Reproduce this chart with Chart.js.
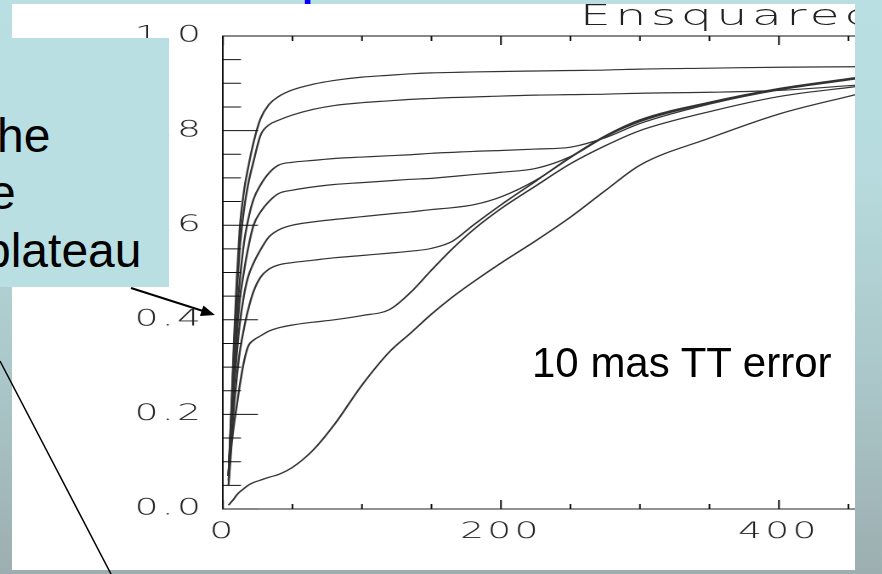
<!DOCTYPE html>
<html>
<head>
<meta charset="utf-8">
<title>Ensquared Energy</title>
<script src="https://cdn.jsdelivr.net/npm/chart.js"></script>
<style>
  html, body { margin: 0; padding: 0; }
  body {
    width: 882px; height: 574px; position: relative; overflow: hidden;
    background: linear-gradient(to bottom, #b9dfe2 0%, #b7dbde 30%, #a9c4c6 70%, #9caeb0 100%);
  }
  #panel { position: absolute; left: 12px; top: 4px; width: 843px; height: 566px; background: #fff; overflow: hidden; }
  /* the original plot is a horizontally stretched image */
  #stretch { position: absolute; left: 0; top: 0; width: 560px; height: 566px; transform: scaleX(1.7); transform-origin: 0 0; }
  #plotTitle { position: absolute; left: 334px; top: -3px; font: 200 29px/29px "DejaVu Sans", sans-serif; letter-spacing: 2.5px; color: #222; white-space: nowrap; }
  #note { position: absolute; left: 0; top: 38px; width: 169px; height: 249px; background: #b9dfe2; overflow: hidden; }
  #note div { position: absolute; font: 48px/57.6px "Liberation Sans", Arial, sans-serif; color: #000; white-space: nowrap; }
  #tt { position: absolute; left: 532px; top: 342px; font: 42px/42px "Liberation Sans", Arial, sans-serif; color: #000; white-space: nowrap; }
  .blue { position: absolute; font: bold 40px/40px "Liberation Sans", Arial, sans-serif; color: #0000ff; }
  svg { position: absolute; left: 0; top: 0; }
</style>
</head>
<body>
<div class="blue" style="left:302px; top:-38px;">p</div>
<div id="panel">
  <div id="stretch">
    <canvas id="eeChart"></canvas>
    <div id="plotTitle">Ensquared Energy</div>
  </div>
</div>
<div id="tt">10 mas TT error</div>
<div id="note">
  <div style="left:-3px; top:69px;">he</div>
  <div style="left:-11px; top:126px;">e</div>
  <div style="left:-16px; top:184px;">plateau</div>
</div>
<svg width="882" height="574">
  <line x1="131" y1="288" x2="203" y2="311" stroke="#000" stroke-width="2"/>
  <polygon points="215,315 203.4,305.5 200,315.9" fill="#000"/>
  <line x1="0" y1="361" x2="111" y2="574" stroke="#000" stroke-width="1.5"/>
</svg>

<script>
// aperture size (mas) shared by all curves
const xs = [4, 6, 8, 10, 12, 15, 18, 22, 27, 33, 40, 50, 65, 80, 100, 120, 135, 150, 165, 180, 200, 225, 250, 275, 300, 350, 400, 455];

// ensquared energy, one array per curve (top plateau to bottom)
const curveA = [0.07, 0.21, 0.36, 0.49, 0.59, 0.67, 0.72, 0.775, 0.825, 0.855, 0.872, 0.886, 0.898, 0.906, 0.913, 0.917, 0.92, 0.922, 0.923, 0.924, 0.925, 0.926, 0.927, 0.928, 0.93, 0.932, 0.934, 0.935];
const curveB = [0.07, 0.20, 0.34, 0.46, 0.55, 0.63, 0.685, 0.735, 0.79, 0.812, 0.822, 0.833, 0.845, 0.853, 0.859, 0.863, 0.866, 0.868, 0.87, 0.871, 0.873, 0.875, 0.876, 0.877, 0.879, 0.881, 0.885, 0.896];
const curveC = [0.07, 0.19, 0.31, 0.41, 0.48, 0.56, 0.61, 0.655, 0.685, 0.71, 0.727, 0.733, 0.737, 0.741, 0.744, 0.747, 0.749, 0.752, 0.754, 0.756, 0.758, 0.761, 0.765, 0.785, 0.815, 0.856, 0.886, 0.909];
const curveD = [0.07, 0.18, 0.29, 0.37, 0.44, 0.50, 0.55, 0.60, 0.628, 0.65, 0.667, 0.674, 0.681, 0.686, 0.69, 0.694, 0.697, 0.699, 0.703, 0.707, 0.712, 0.72, 0.745, 0.787, 0.819, 0.858, 0.887, 0.91];
const curveE = [0.07, 0.17, 0.26, 0.33, 0.39, 0.45, 0.49, 0.52, 0.548, 0.575, 0.59, 0.60, 0.607, 0.612, 0.618, 0.624, 0.628, 0.633, 0.637, 0.643, 0.66, 0.695, 0.743, 0.788, 0.821, 0.859, 0.888, 0.911];
const curveF = [0.06, 0.15, 0.22, 0.28, 0.33, 0.38, 0.42, 0.46, 0.49, 0.507, 0.516, 0.521, 0.526, 0.531, 0.536, 0.541, 0.545, 0.551, 0.566, 0.60, 0.643, 0.693, 0.744, 0.789, 0.823, 0.86, 0.889, 0.912];
const curveG = [0.05, 0.13, 0.18, 0.22, 0.26, 0.31, 0.343, 0.357, 0.366, 0.376, 0.383, 0.389, 0.395, 0.40, 0.409, 0.422, 0.458, 0.505, 0.55, 0.59, 0.635, 0.683, 0.73, 0.768, 0.80, 0.84, 0.872, 0.893];
const curveI = [0.008, 0.015, 0.022, 0.03, 0.036, 0.043, 0.05, 0.056, 0.061, 0.067, 0.073, 0.088, 0.125, 0.178, 0.262, 0.333, 0.372, 0.412, 0.448, 0.48, 0.52, 0.567, 0.617, 0.673, 0.727, 0.784, 0.835, 0.876];

const curves = [curveA, curveB, curveC, curveD, curveE, curveF, curveG, curveI];

// labelled (major) ticks
const xLabelValues = [0, 200, 400];
const yLabelValues = [0, 0.2, 0.4, 0.6, 0.8, 1.0];

const isLabelY = v => yLabelValues.some(l => Math.abs(l - v) < 1e-6);
const isLabelX = v => xLabelValues.includes(Math.round(v));

// inward IDL-style ticks plus the top/right frame
const idlAxes = {
  id: 'idlAxes',
  beforeDraw(chart) {
    chart.ctx.letterSpacing = '2px';
  },
  afterDraw(chart) {
    const { ctx, chartArea: a, scales: { x, y } } = chart;
    ctx.save();
    ctx.letterSpacing = '0px';
    ctx.strokeStyle = '#111';
    ctx.lineWidth = 1;
    ctx.beginPath();
    y.ticks.forEach(t => {
      const py = y.getPixelForValue(t.value);
      const len = isLabelY(t.value) ? 20.6 : 10.6;
      ctx.moveTo(a.left, py); ctx.lineTo(a.left + len, py);
      ctx.moveTo(a.right, py); ctx.lineTo(a.right - len, py);
    });
    x.ticks.forEach(t => {
      const px = x.getPixelForValue(t.value);
      const len = isLabelX(t.value) ? 9 : 5;
      ctx.moveTo(px, a.bottom); ctx.lineTo(px, a.bottom - len);
      ctx.moveTo(px, a.top); ctx.lineTo(px, a.top + len);
    });
    ctx.moveTo(a.left, a.top); ctx.lineTo(a.right, a.top);
    ctx.moveTo(a.right, a.top); ctx.lineTo(a.right, a.bottom);
    ctx.stroke();
    ctx.restore();
  }
};

const tickFont = { family: 'DejaVu Sans', size: 22, weight: 200 };

new Chart(document.getElementById('eeChart'), {
  type: 'line',
  data: {
    datasets: curves.map(ys => ({
      data: xs.map((x, i) => ({ x: x, y: ys[i] })),
      borderColor: '#333',
      borderWidth: 1.2,
      pointRadius: 0,
      fill: false,
      cubicInterpolationMode: 'monotone'
    }))
  },
  options: {
    responsive: true,
    maintainAspectRatio: false,
    animation: false,
    devicePixelRatio: 2,
    layout: { padding: { left: 0, right: 27.1, top: 32, bottom: 0 } },
    plugins: { legend: { display: false }, tooltip: { enabled: false }, title: { display: false } },
    scales: {
      x: {
        type: 'linear',
        min: 0, max: 500,
        grid: { display: false },
        border: { display: true, color: '#222', width: 1 },
        ticks: {
          stepSize: 50, autoSkip: false, maxRotation: 0, padding: 2,
          color: '#222', font: tickFont,
          callback: v => isLabelX(v) ? String(v) : ''
        },
        afterFit: s => { s.height = 61; }
      },
      y: {
        min: 0, max: 1,
        grid: { display: false },
        border: { display: true, color: '#111', width: 1 },
        ticks: {
          stepSize: 0.05, autoSkip: false, padding: 3,
          color: '#222', font: tickFont,
          callback: v => isLabelY(v) ? v.toFixed(1) : ''
        },
        afterFit: s => { s.width = 124.1; }
      }
    }
  },
  plugins: [idlAxes]
});
</script>
</body>
</html>
